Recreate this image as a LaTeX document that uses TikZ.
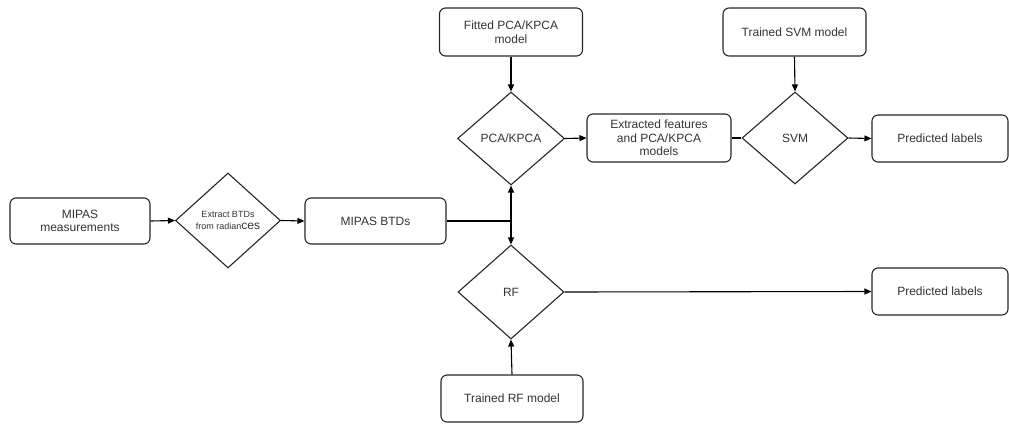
\documentclass[tikz,border=0pt]{standalone}
\usepackage{fontspec}
\setmainfont{Liberation Sans}
\usetikzlibrary{shapes.geometric,arrows.meta}
\definecolor{txt}{HTML}{333333}
\begin{document}
\begin{tikzpicture}[x=1pt,y=-1pt,
  box/.style={draw=black!85, line width=1.1pt, rounded corners=6pt, align=center,
    text=txt, font=\fontsize{12}{13.5}\selectfont, inner sep=0pt},
  dia/.style={draw=black!85, line width=1.1pt, diamond, align=center, text=txt,
    font=\fontsize{12}{13.5}\selectfont, inner sep=0pt},
  conn/.style={line width=1.1pt, draw=black},
  arr/.style={conn, -{Triangle[length=7pt,width=6pt]}}]
\useasboundingbox (0,0) rectangle (1009,423);
\node[box, minimum width=140pt, minimum height=46pt] (mm) at (80,221) {MIPAS\\measurements};
\node[dia, minimum width=105pt, minimum height=95pt] (ex) at (228,220.5) {};
\node[text=txt, align=center, font=\fontsize{9}{12}\selectfont] (exl) at (228,220) {Extract BTDs\\from radian{\fontsize{12}{12}\selectfont ces}};
\node[box, minimum width=141pt, minimum height=46pt] (btd) at (375.5,221) {MIPAS BTDs};
\coordinate (j) at (511,221);
\node[dia, minimum width=107pt, minimum height=93pt] (pca) at (511,138.5) {PCA/KPCA};
\node[box, minimum width=143pt, minimum height=48pt] (fit) at (511,32) {Fitted PCA/KPCA\\model};
\node[box, minimum width=144pt, minimum height=48pt] (ext) at (659,138) {Extracted features\\and PCA/KPCA\\models};
\node[dia, minimum width=106pt, minimum height=92pt] (svm) at (795,138) {SVM};
\node[box, minimum width=143pt, minimum height=48pt] (tsvm) at (794.5,32) {Trained SVM model};
\node[box, minimum width=136pt, minimum height=47pt] (pl1) at (940,138.5) {Predicted labels};
\node[dia, minimum width=106pt, minimum height=94pt] (rf) at (511,292) {RF};
\node[box, minimum width=136pt, minimum height=47pt] (pl2) at (940,291.5) {Predicted labels};
\node[box, minimum width=142pt, minimum height=47pt] (trf) at (512,398.5) {Trained RF model};
\draw[arr] (mm.east) -- (ex.west);
\draw[arr] (ex.east) -- (btd.west);
\draw[conn] (btd.east) -- (j);
\draw[arr] (j) -- (pca.south);
\draw[arr] (j) -- (rf.north);
\draw[arr] (fit.south) -- (pca.north);
\draw[arr] (pca.east) -- (ext.west);
\draw[conn] (ext.east) -- (svm.west);
\draw[arr] (tsvm.south) -- (svm.north);
\draw[arr] (svm.east) -- (pl1.west);
\draw[arr] (rf.east) -- (pl2.west);
\draw[arr] (trf.north) -- (rf.south);
\end{tikzpicture}
\end{document}
